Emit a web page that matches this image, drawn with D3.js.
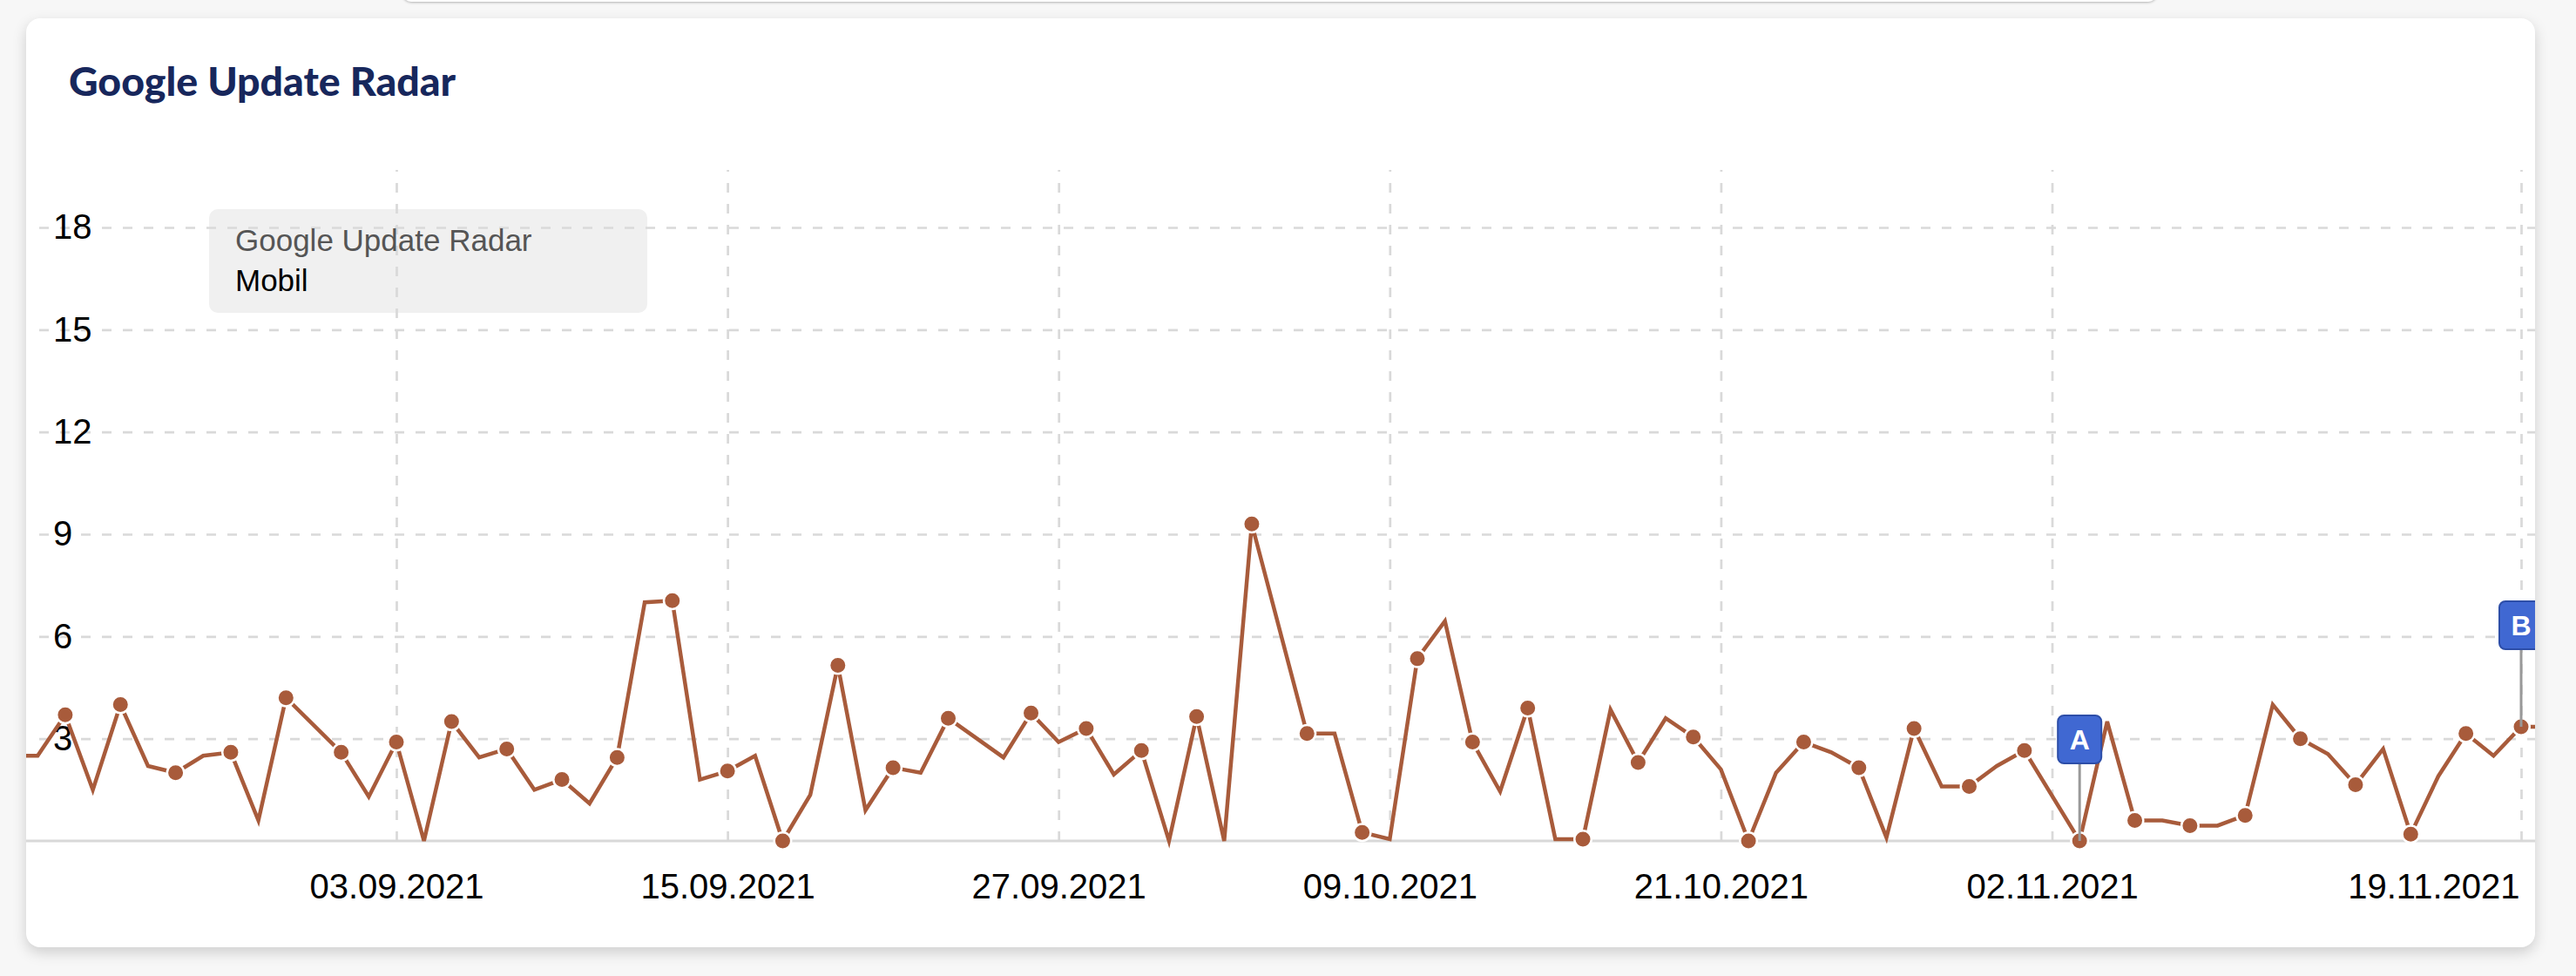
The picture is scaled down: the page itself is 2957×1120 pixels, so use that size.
<!DOCTYPE html>
<html><head><meta charset="utf-8">
<script src="https://cdn.jsdelivr.net/npm/d3@7"></script>
<style>
html,body{margin:0;padding:0;background:#f7f7f7;width:2957px;height:1120px;overflow:hidden;}
#topbar{position:absolute;left:462px;top:-20px;width:2014px;height:22px;background:#fff;border-radius:10px;box-shadow:0 1px 3px rgba(0,0,0,.28);}
#card{position:absolute;left:30px;top:21px;width:2880px;height:1066px;background:#fff;border-radius:16px;box-shadow:0 6px 16px rgba(0,0,0,.17);}
svg{position:absolute;left:0;top:0;}
</style></head><body>
<div id="topbar"></div><div id="card"></div>
<svg id="chart" width="2957" height="1120"></svg>
<script>
// ---------- data ----------
const dates = [
 "20.08.2021","21.08.2021","22.08.2021","23.08.2021","24.08.2021","25.08.2021","26.08.2021","27.08.2021","28.08.2021","29.08.2021","30.08.2021","31.08.2021",
 "01.09.2021","02.09.2021","03.09.2021","04.09.2021","05.09.2021","06.09.2021","07.09.2021","08.09.2021","09.09.2021","10.09.2021",
 "11.09.2021","12.09.2021","13.09.2021","14.09.2021","15.09.2021","16.09.2021","17.09.2021","18.09.2021","19.09.2021","20.09.2021",
 "21.09.2021","22.09.2021","23.09.2021","24.09.2021","25.09.2021","26.09.2021","27.09.2021","28.09.2021","29.09.2021","30.09.2021",
 "01.10.2021","02.10.2021","03.10.2021","04.10.2021","05.10.2021","06.10.2021","07.10.2021","08.10.2021","09.10.2021","10.10.2021",
 "11.10.2021","12.10.2021","13.10.2021","14.10.2021","15.10.2021","16.10.2021","17.10.2021","18.10.2021","19.10.2021","20.10.2021",
 "21.10.2021","22.10.2021","23.10.2021","24.10.2021","25.10.2021","26.10.2021","27.10.2021","28.10.2021","29.10.2021","30.10.2021","31.10.2021",
 "01.11.2021","02.11.2021","03.11.2021","04.11.2021","05.11.2021","06.11.2021","07.11.2021","08.11.2021","09.11.2021","10.11.2021",
 "11.11.2021","12.11.2021","13.11.2021","14.11.2021","15.11.2021","16.11.2021","17.11.2021","18.11.2021","19.11.2021","20.11.2021"
];
const values = [
 2.5, 2.5, 3.7, 1.5, 4.0, 2.2, 2.0, 2.5, 2.6, 0.6, 4.2, null,
 2.6, 1.3, 2.9, 0, 3.5, 2.45, 2.7, 1.5, 1.8, 1.1,
 2.45, 7.0, 7.05, 1.8, 2.05, 2.5, 0, 1.35, 5.15, 0.9,
 2.15, 2.0, 3.6, null, 2.45, 3.75, 2.9, 3.3, 1.95, 2.65,
 0, 3.65, 0, 9.3, null, 3.15, 3.15, 0.25, 0.05, 5.35,
 6.45, 2.9, 1.45, 3.9, 0.05, 0.05, 3.85, 2.3, 3.6, 3.05,
 2.1, 0, 2.0, 2.9, 2.6, 2.15, 0.1, 3.3, 1.6, 1.6, 2.2,
 2.65, null, 0, 3.5, 0.6, 0.6, 0.45, 0.45, 0.75, 4.0,
 3.0, 2.55, 1.65, 2.7, 0.2, 1.9, 3.15, 2.5, 3.35, 3.35
];
const markerDates = [
 "20.08.2021","22.08.2021","24.08.2021","26.08.2021","28.08.2021","30.08.2021","01.09.2021","03.09.2021",
 "05.09.2021","07.09.2021","09.09.2021","11.09.2021","13.09.2021","15.09.2021","17.09.2021","19.09.2021",
 "21.09.2021","23.09.2021","26.09.2021","28.09.2021","30.09.2021","02.10.2021","04.10.2021",
 "06.10.2021","08.10.2021","10.10.2021","12.10.2021","14.10.2021","16.10.2021","18.10.2021","20.10.2021",
 "22.10.2021","24.10.2021","26.10.2021","28.10.2021","30.10.2021","01.11.2021","03.11.2021",
 "05.11.2021","07.11.2021","09.11.2021","11.11.2021","13.11.2021","15.11.2021","17.11.2021","19.11.2021"
];
const xTickLabels = ["03.09.2021","15.09.2021","27.09.2021","09.10.2021","21.10.2021","02.11.2021","19.11.2021"];
const yTickValues = [3, 6, 9, 12, 15, 18];
const flagDates = ["03.11.2021", "19.11.2021"];
const flagLabels = ["A", "B"];
const chartTitle = "Google Update Radar";
const legendTitle = "Google Update Radar";
const legendItem = "Mobil";

// ---------- setup ----------
const parse = d3.utcParse("%d.%m.%Y");
const fmt = d3.utcFormat("%d.%m.%Y");
const LINE = "#a85b3b";
const svg = d3.select("#chart");

const card = {x: 30, y: 21, w: 2880, h: 1066};
const plot = {left: 30, right: 2910, top: 195, bottom: 965};

const x = d3.scaleUtc()
  .domain([parse(xTickLabels[0]), parse(xTickLabels[xTickLabels.length - 1])])
  .range([455, 2894]);
const y = d3.scaleLinear().domain([0, 18]).range([plot.bottom, 261]);

svg.append("defs").append("clipPath").attr("id", "cardClip")
  .append("rect").attr("x", card.x).attr("y", card.y).attr("width", card.w).attr("height", card.h).attr("rx", 16);

const g = svg.append("g").attr("clip-path", "url(#cardClip)");

// title
g.append("text").attr("x", 79).attr("y", 110)
  .attr("font-family", "Lato, 'Noto Sans', sans-serif").attr("font-weight", 900)
  .attr("font-size", 46).attr("fill", "#17275c")
  .attr("textLength", 444).attr("lengthAdjust", "spacingAndGlyphs")
  .text(chartTitle);

// legend box (under gridlines)
g.append("rect").attr("x", 240).attr("y", 240).attr("width", 503).attr("height", 119)
  .attr("rx", 10).attr("fill", "#f0f0f0");

// x axis with vertical gridlines
const xAxis = d3.axisBottom(x)
  .tickValues(xTickLabels.map(parse))
  .tickFormat(fmt)
  .tickSizeInner(-(plot.bottom - plot.top))
  .tickSizeOuter(0)
  .tickPadding(38);
const xg = g.append("g").attr("transform", `translate(0,${plot.bottom})`).call(xAxis);
xg.select(".domain").remove();
xg.selectAll(".tick line").attr("stroke", "#d9d9d9").attr("stroke-width", 2.7).attr("stroke-dasharray", "11,13");
xg.selectAll(".tick text").attr("font-family", "'Liberation Sans', Arial, sans-serif")
  .attr("font-size", 40).attr("fill", "#000");
xg.selectAll(".tick text").filter((d, i, n) => i === n.length - 1)
  .attr("text-anchor", "end").attr("x", -2);

// y axis with horizontal gridlines
const yAxis = d3.axisLeft(y)
  .tickValues(yTickValues)
  .tickFormat(d3.format("d"))
  .tickSizeInner(-(plot.right - 45))
  .tickSizeOuter(0);
const yg = g.append("g").attr("transform", "translate(45,0)").call(yAxis);
yg.select(".domain").remove();
yg.selectAll(".tick line").attr("stroke", "#d9d9d9").attr("stroke-width", 2.7).attr("stroke-dasharray", "11,13");
yg.selectAll(".tick text").attr("x", 16).attr("text-anchor", "start")
  .attr("font-family", "'Liberation Sans', Arial, sans-serif").attr("font-size", 40).attr("fill", "#000");

// baseline
g.append("line").attr("x1", plot.left).attr("x2", plot.right)
  .attr("y1", y(0)).attr("y2", y(0)).attr("stroke", "#d8d8d8").attr("stroke-width", 3);

// legend text
g.append("text").attr("x", 270).attr("y", 288)
  .attr("font-family", "'Liberation Sans', Arial, sans-serif").attr("font-size", 35).attr("fill", "#555")
  .text(legendTitle);
g.append("text").attr("x", 270).attr("y", 334)
  .attr("font-family", "'Liberation Sans', Arial, sans-serif").attr("font-size", 35).attr("fill", "#000")
  .text(legendItem);

// series
const data = dates.map((d, i) => ({date: parse(d), key: d, value: values[i]}))
  .filter(d => d.value !== null);
const line = d3.line().x(d => x(d.date)).y(d => y(d.value));
g.append("path").datum(data).attr("d", line)
  .attr("fill", "none").attr("stroke", LINE).attr("stroke-width", 4.5)
  .attr("stroke-linejoin", "miter");

const markerSet = new Set(markerDates);
g.selectAll("circle.pt").data(data.filter(d => markerSet.has(d.key))).join("circle")
  .attr("class", "pt")
  .attr("cx", d => x(d.date)).attr("cy", d => y(d.value)).attr("r", 9.75)
  .attr("fill", LINE).attr("stroke", "#fff").attr("stroke-width", 2.5);

// flags
const flagData = flagDates.map((d, i) => {
  const p = data.find(v => v.key === d);
  return {date: p.date, value: p.value, label: flagLabels[i]};
});
const fg = g.selectAll("g.flag").data(flagData).join("g").attr("class", "flag")
  .attr("transform", d => `translate(${x(d.date)},${y(d.value)})`);
fg.append("line").attr("x1", 0).attr("x2", 0).attr("y1", 0).attr("y2", -89)
  .attr("stroke", "#999").attr("stroke-width", 3);
fg.append("rect").attr("x", -25).attr("y", -144).attr("width", 50).attr("height", 55).attr("rx", 7)
  .attr("fill", "#4068d2").attr("stroke", "#2d4ea8").attr("stroke-width", 2);
fg.append("text").attr("x", 0).attr("y", -105).attr("text-anchor", "middle")
  .attr("font-family", "'Liberation Sans', Arial, sans-serif").attr("font-weight", 700)
  .attr("font-size", 32).attr("fill", "#fff").text(d => d.label);
</script>
</body></html>
